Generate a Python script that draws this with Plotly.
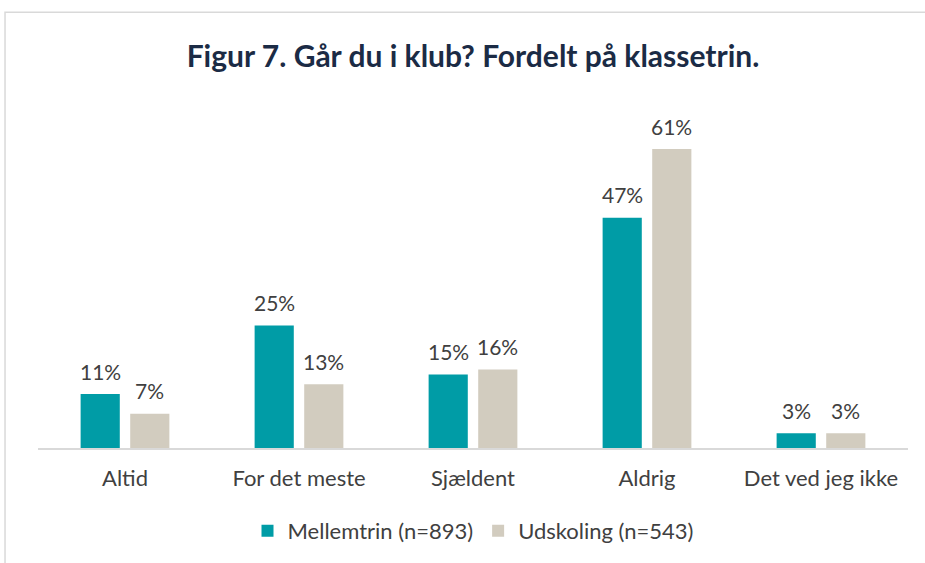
import plotly.graph_objects as go

categories = ["Altid", "For det meste", "Sjældent", "Aldrig", "Det ved jeg ikke"]
mellemtrin = [11, 25, 15, 47, 3]
udskoling = [7, 13, 16, 61, 3]
series_names = ["Mellemtrin (n=893)", "Udskoling (n=543)"]
colors = ["#009CA6", "#D2CCBF"]

FONT = "Lato, Carlito, Calibri, sans-serif"
TXT = "#404040"

fig = go.Figure()
for name, vals, col in zip(series_names, [mellemtrin, udskoling], colors):
    fig.add_trace(go.Bar(
        x=categories, y=vals, name=name,
        marker=dict(color=col, line=dict(width=0)),
    ))

# value labels (placed above each bar via the data scales)
offset = 0.1422  # half the group slot, in category units
annotations = []
for k, vals in enumerate([mellemtrin, udskoling]):
    for i, v in enumerate(vals):
        annotations.append(dict(
            x=i + (offset if k else -offset), y=v, xref="x", yref="y",
            text=f"{v}%", showarrow=False, yanchor="middle", yshift=23,
            font=dict(size=21, color=TXT, family=FONT),
        ))

fig.update_layout(
    width=925, height=563,
    margin=dict(l=38, r=17, t=100, b=114),
    paper_bgcolor="white", plot_bgcolor="white",
    barmode="group", bargap=0.43, bargroupgap=0.21,
    font=dict(family=FONT, size=21, color=TXT),
    title=dict(
        text="<b>Figur 7. Går du i klub? Fordelt på klassetrin.</b>",
        x=0.5, xref="paper", xanchor="center",
        y=1 - 56 / 563, yref="container", yanchor="middle",
        font=dict(size=30, color="#1B2B45", family=FONT),
    ),
    xaxis=dict(
        showline=True, linecolor="#D9D9D9", linewidth=1.5,
        showgrid=False, ticks="", tickfont=dict(size=22, color=TXT),
        ticklabelstandoff=10,
    ),
    yaxis=dict(range=[0, 71], visible=False, showgrid=False),
    legend=dict(
        orientation="h", x=0.5, xanchor="center", y=-0.235, yanchor="middle",
        font=dict(size=22, color=TXT), traceorder="normal", itemwidth=30,
    ),
    showlegend=True,
    annotations=annotations,
    shapes=[dict(
        type="rect", xref="paper", yref="paper",
        x0=-0.0379, x1=1.3, y0=-0.8, y1=1.252,
        line=dict(color="#D9D9D9", width=1.5), fillcolor="rgba(0,0,0,0)",
        layer="below",
    )],
)

fig.write_html(
    "out.html",
    config={"displayModeBar": False},
    post_script="document.body.style.margin='0';document.body.style.overflow='hidden';",
)
